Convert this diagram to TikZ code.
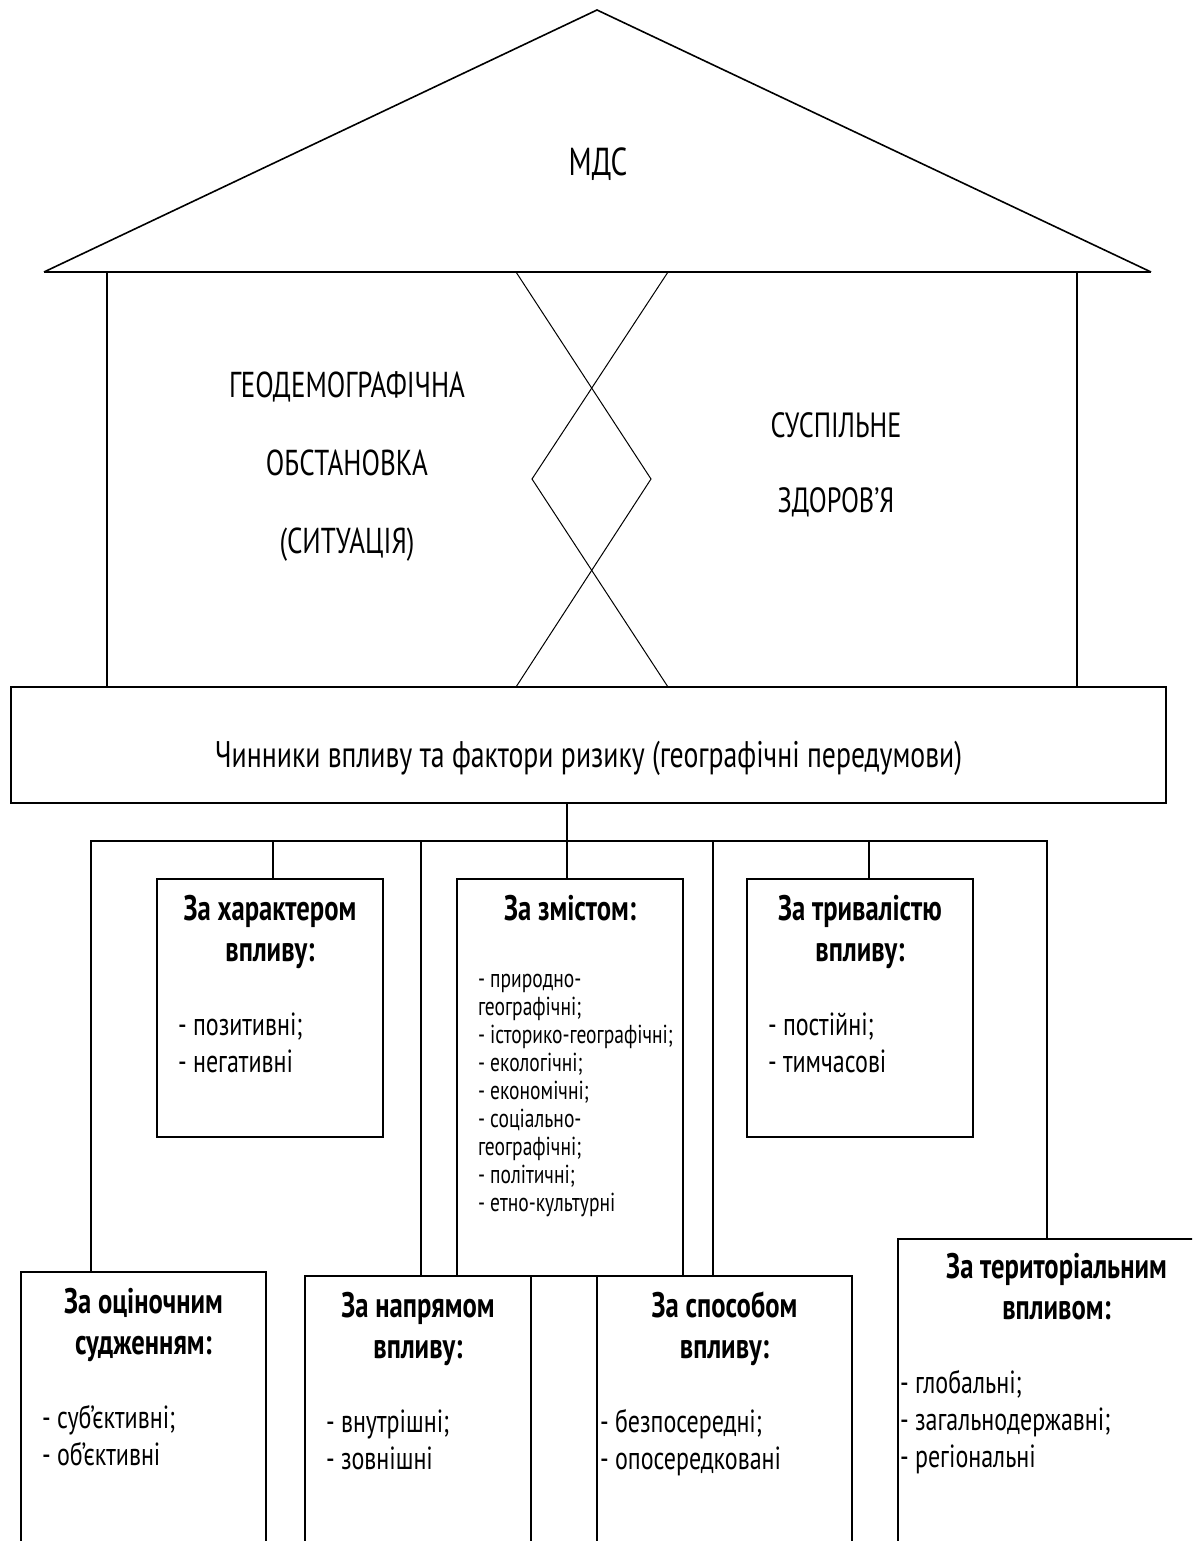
\documentclass[tikz,border=0pt]{standalone}
\usepackage{fontspec}
\setmainfont{PT Sans}[FakeStretch=0.75]
\usetikzlibrary{positioning}

% text of one criterion box: width, list indent, gap, heading, list
\newcommand{\kryterij}[5]{%
    \begin{minipage}[t]{#1pt}
        \hyphenpenalty=10000 \exhyphenpenalty=10000
        \fontsize{35.5}{41}\selectfont\centering\bfseries #4\par
        \vspace{#3pt}%
        \raggedright\leftskip=#2pt\mdseries\fontsize{32}{37}\selectfont #5\par
    \end{minipage}}

% centred label of the house: width, size, line skip, text
\newcommand{\hlabel}[4]{%
    \begin{minipage}[t]{#1pt}
        \centering\fontsize{#2}{#3}\selectfont #4\par
    \end{minipage}}

\begin{document}
\begin{tikzpicture}[x=1pt, y=-1pt,
    every node/.style={inner sep=0pt, outer sep=0pt},
    critbox/.style={draw, line width=2pt, rectangle, anchor=north west},
    link/.style={line width=2pt},
    wall/.style={line width=1.6pt},
    cross/.style={line width=1pt}
]
    \useasboundingbox (0,0) rectangle (1192,1541);
    \clip (0,0) rectangle (1192,1541);

    % dakh
    \coordinate (apex) at (597,10);
    \coordinate (eaveL) at (44,272);
    \coordinate (eaveR) at (1151,272);
    \draw [wall] (eaveL) -- (apex) -- (eaveR);
    \draw [line width=2.4pt] (eaveL) -- (eaveR);

    \node [draw, line width=2pt,
        minimum width=1155,
        minimum height=116
    ] (main) at (588.5,745) {};

    % stiny
    \coordinate (wallL) at (107,272);
    \coordinate (wallR) at (1077,272);
    \draw [wall] (wallL) -- (wallL |- main.north);
    \draw [wall] (wallR) -- (wallR |- main.north);

    \coordinate (xl) at (516,272);
    \coordinate (xr) at (668,272);
    \coordinate (dl) at (532,479);
    \coordinate (dr) at (651,479);
    \draw [cross] (xl) -- (dr) -- (xl |- main.north);
    \draw [cross] (xr) -- (dl) -- (xr |- main.north);

    % kryterii
    \node [critbox, minimum width=226, minimum height=258] (char) at (157,879) {};
    \node [critbox, minimum width=226, minimum height=397] (zmist) at (457,879) {};
    \node [critbox, minimum width=226, minimum height=258] (triv) at (747,879) {};
    \node [critbox, minimum width=245, minimum height=320] (ocin) at (21,1272) {};
    \node [critbox, minimum width=226, minimum height=320] (napr) at (305,1276) {};
    \node [critbox, minimum width=255, minimum height=320] (spos) at (597,1276) {};
    \node [critbox, minimum width=320, minimum height=360] (terr) at (898,1239) {};

    % napysy
    \draw
        (apex) ++ (1,166) node [anchor=base] (mds) {\hlabel{200}{39}{40}{МДС}}

        (347,397) node [anchor=base] (geo) {\hlabel{400}{36}{78}{ГЕОДЕМОГРАФІЧНА\\ОБСТАНОВКА\\(СИТУАЦІЯ)}}

        (836,437) node [anchor=base] (zdor) {\hlabel{300}{35}{75}{СУСПІЛЬНЕ\\ЗДОРОВ’Я}}

        (main.south) ++ (0,-36) node [anchor=base] (mainlbl) {\hlabel{1150}{37}{42}{Чинники впливу та фактори ризику (географічні передумови)}}

        (char.north west) ++ (0,41) node [anchor=base west] {\kryterij{226}{21}{37}{За характером\\впливу:}{- позитивні;\\- негативні}}

        (zmist.north west) ++ (0,41) node [anchor=base west] {\kryterij{226}{21}{39}{За змістом:}{\fontsize{26}{28}\selectfont
            - природно-\\географічні;\\- історико-географічні;\\- екологічні;\\- економічні;\\- соціально-\\географічні;\\- політичні;\\- етно-культурні}}

        (triv.north west) ++ (0,41) node [anchor=base west] {\kryterij{226}{21}{37}{За тривалістю\\впливу:}{- постійні;\\- тимчасові}}

        (ocin.north west) ++ (0,41) node [anchor=base west] {\kryterij{245}{21}{37}{За оціночним\\судженням:}{- суб’єктивні;\\- об’єктивні}}

        (napr.north west) ++ (0,41) node [anchor=base west] {\kryterij{226}{21}{37}{За напрямом\\впливу:}{- внутрішні;\\- зовнішні}}

        (spos.north west) ++ (0,41) node [anchor=base west] {\kryterij{255}{3}{37}{За способом\\впливу:}{- безпосередні;\\- опосередковані}}

        (terr.north west) ++ (0,39) node [anchor=base west] {\kryterij{317}{2}{37}{За територіальним\\впливом:}{- глобальні;\\- загальнодержавні;\\- регіональні}}
    ;

    % zviazky
    \coordinate (busL) at (91,841);
    \coordinate (busR) at (1047,841);
    \draw [link] (main.south -| 567,0) -- (567,879);
    \draw [link] (busL |- ocin.north) -- (busL) -- (busR) -- (busR |- terr.north);
    \foreach \x/\b in {273/char, 421/napr, 713/spos, 869/triv}
        \draw [link] (\x,841) |- (\b.north);
\end{tikzpicture}
\end{document}
